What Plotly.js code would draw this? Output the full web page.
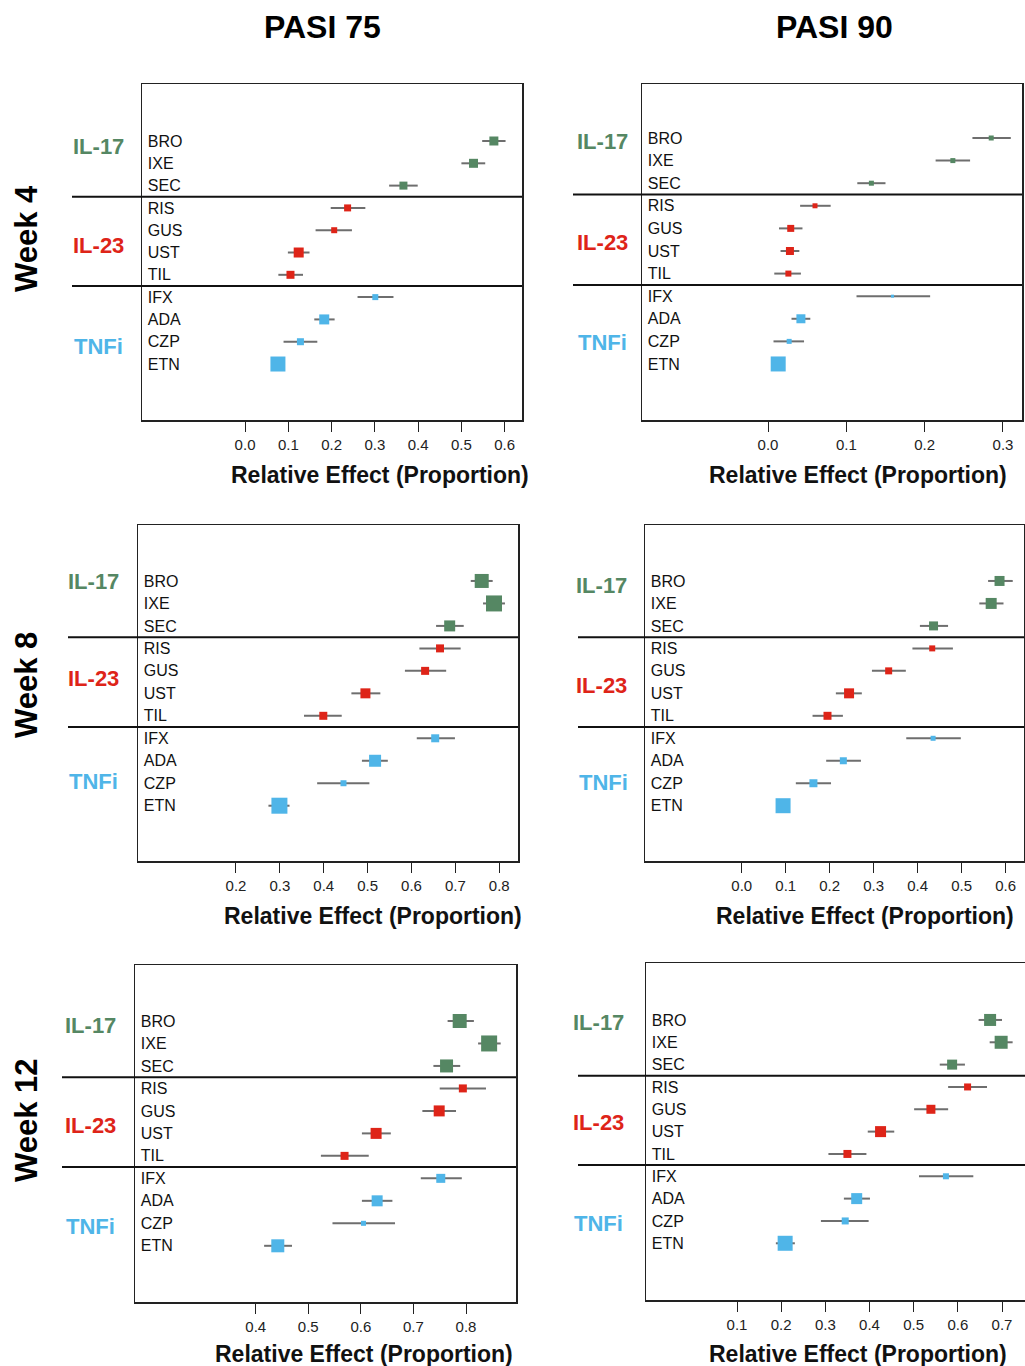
<!DOCTYPE html>
<html>
<head>
<meta charset="utf-8">
<script src="https://cdn.plot.ly/plotly-3.0.1.min.js"></script>
<style>html,body{margin:0;padding:0;background:#fff;}#chart{width:1025px;height:1366px;}</style>
</head>
<body>
<div id="chart"></div>
<script>
// ---------- DATA ----------
const drugs = ['BRO','IXE','SEC','RIS','GUS','UST','TIL','IFX','ADA','CZP','ETN'];
const drugClass = ['IL-17','IL-17','IL-17','IL-23','IL-23','IL-23','IL-23','TNFi','TNFi','TNFi','TNFi'];
const classNames = ['IL-17','IL-23','TNFi'];
const columnTitles = ['PASI 75','PASI 90'];
const rowTitles = ['Week 4','Week 8','Week 12'];
const axisTitle = 'Relative Effect (Proportion)';

// Week 4, PASI 75
const w4p75_est = [0.575,0.528,0.366,0.237,0.206,0.124,0.105,0.301,0.183,0.128,0.076];
const w4p75_lo  = [0.548,0.500,0.333,0.198,0.163,0.099,0.077,0.260,0.160,0.089,0.064];
const w4p75_hi  = [0.602,0.555,0.399,0.278,0.247,0.149,0.134,0.343,0.207,0.167,0.088];
const w4p75_ticks = [0.0,0.1,0.2,0.3,0.4,0.5,0.6];
// Week 4, PASI 90
const w4p90_est = [0.285,0.236,0.132,0.060,0.029,0.028,0.026,0.159,0.042,0.027,0.013];
const w4p90_lo  = [0.261,0.214,0.114,0.041,0.014,0.016,0.008,0.113,0.030,0.007,0.007];
const w4p90_hi  = [0.310,0.258,0.150,0.080,0.044,0.040,0.042,0.207,0.054,0.046,0.019];
const w4p90_ticks = [0.0,0.1,0.2,0.3];
// Week 8, PASI 75
const w8p75_est = [0.760,0.788,0.687,0.665,0.631,0.495,0.399,0.654,0.517,0.445,0.299];
const w8p75_lo  = [0.735,0.763,0.656,0.618,0.585,0.463,0.355,0.612,0.487,0.385,0.274];
const w8p75_hi  = [0.785,0.813,0.719,0.712,0.679,0.529,0.441,0.699,0.546,0.504,0.322];
const w8p75_ticks = [0.2,0.3,0.4,0.5,0.6,0.7,0.8];
// Week 8, PASI 90
const w8p90_est = [0.586,0.567,0.436,0.433,0.334,0.244,0.195,0.435,0.231,0.163,0.094];
const w8p90_lo  = [0.560,0.540,0.405,0.388,0.296,0.214,0.161,0.374,0.192,0.123,0.082];
const w8p90_hi  = [0.616,0.595,0.469,0.480,0.373,0.273,0.230,0.498,0.271,0.203,0.106];
const w8p90_ticks = [0.0,0.1,0.2,0.3,0.4,0.5,0.6];
// Week 12, PASI 75
const w12p75_est = [0.788,0.844,0.763,0.794,0.749,0.629,0.569,0.752,0.631,0.605,0.442];
const w12p75_lo  = [0.765,0.823,0.738,0.750,0.717,0.602,0.524,0.714,0.602,0.546,0.416];
const w12p75_hi  = [0.815,0.866,0.789,0.838,0.781,0.657,0.615,0.792,0.660,0.665,0.469];
const w12p75_ticks = [0.4,0.5,0.6,0.7,0.8];
// Week 12, PASI 90
const w12p90_est = [0.673,0.698,0.587,0.622,0.539,0.425,0.350,0.573,0.371,0.345,0.209];
const w12p90_lo  = [0.647,0.672,0.559,0.578,0.501,0.396,0.307,0.512,0.342,0.290,0.188];
const w12p90_hi  = [0.700,0.724,0.616,0.666,0.578,0.456,0.393,0.635,0.401,0.398,0.231];
const w12p90_ticks = [0.1,0.2,0.3,0.4,0.5,0.6,0.7];

// box (weight) sizes of the square markers
const w4p75_box  = [9,9,8,7,6,10,8,6,10,7,15];
const w4p90_box  = [5,5,5,5,7,8,6,3,9,5,15];
const w8p75_box  = [14,16,11,8,8,10,8,8,12,6,16];
const w8p90_box  = [10,11,9,6,7,10,8,5,7,8,15];
const w12p75_box = [14,16,13,8,11,11,8,9,11,5,13];
const w12p90_box = [12,13,10,7,9,11,8,6,11,7,15];

// ---------- STYLE / GEOMETRY ----------
const W = 1025, H = 1366;
const X = p => p / W;
const Y = p => 1 - p / H;
const classColor = {'IL-17':'#558763','IL-23':'#de2418','TNFi':'#4fb5e8'};
const FONT = 'Liberation Sans, Arial, Helvetica, sans-serif';

const panels = [
  {est:w4p75_est, lo:w4p75_lo, hi:w4p75_hi, box:w4p75_box, ticks:w4p75_ticks,
   bx:[142,522], by:[84,420], xr:[-0.2381,0.6400], yr:[12.51,-2.556], sepX:72,
   grp:[[98,146],[98,246],[98,346]], at:[380,475]},
  {est:w4p90_est, lo:w4p90_lo, hi:w4p90_hi, box:w4p90_box, ticks:w4p90_ticks,
   bx:[642,1022], by:[84,420], xr:[-0.1609,0.3243], yr:[12.48,-2.39], sepX:573,
   grp:[[602,142],[602,242],[602,342]], at:[858,475]},
  {est:w8p75_est, lo:w8p75_lo, hi:w8p75_hi, box:w8p75_box, ticks:w8p75_ticks,
   bx:[138,518], by:[525,861], xr:[-0.0233,0.8427], yr:[12.46,-2.49], sepX:68,
   grp:[[93,581],[93,679],[93,781]], at:[373,916]},
  {est:w8p90_est, lo:w8p90_lo, hi:w8p90_hi, box:w8p90_box, ticks:w8p90_ticks,
   bx:[645,1024], by:[525,861], xr:[-0.2198,0.6416], yr:[12.46,-2.49], sepX:578,
   grp:[[601,585],[601,685],[603,782]], at:[865,916]},
  {est:w12p75_est, lo:w12p75_lo, hi:w12p75_hi, box:w12p75_box, ticks:w12p75_ticks,
   bx:[135,516], by:[965,1302], xr:[0.1704,0.8951], yr:[12.5,-2.49], sepX:62,
   grp:[[90,1025],[90,1125],[90,1226]], at:[364,1354]},
  {est:w12p90_est, lo:w12p90_lo, hi:w12p90_hi, box:w12p90_box, ticks:w12p90_ticks,
   bx:[646,1025], by:[963,1300], xr:[-0.106,0.752], yr:[12.54,-2.55], sepX:578,
   grp:[[598,1022],[598,1122],[598,1223]], at:[858,1354]}
];

const data = [];
const layout = {
  width: W, height: H,
  margin: {l:0, r:0, t:0, b:0},
  paper_bgcolor: '#fff', plot_bgcolor: '#fff',
  showlegend: false,
  font: {family: FONT, color: '#111'},
  shapes: [], annotations: []
};

panels.forEach((p, i) => {
  const n = i + 1;
  const xa = 'xaxis' + (n === 1 ? '' : n);
  const ya = 'yaxis' + (n === 1 ? '' : n);
  const xr = 'x' + (n === 1 ? '' : n);
  const yr = 'y' + (n === 1 ? '' : n);

  // confidence intervals (drawn first, beneath the squares)
  data.push({
    type: 'scatter', mode: 'markers',
    x: p.est, y: drugs, xaxis: xr, yaxis: yr,
    marker: {size: 1, color: 'rgba(0,0,0,0)'},
    error_x: {type: 'data', symmetric: false,
              array: p.hi.map((h, k) => h - p.est[k]),
              arrayminus: p.lo.map((l, k) => p.est[k] - l),
              color: '#6e6e6e', thickness: 2, width: 0},
    hoverinfo: 'skip'
  });
  // point estimates
  data.push({
    type: 'scatter', mode: 'markers',
    x: p.est, y: drugs, xaxis: xr, yaxis: yr,
    marker: {symbol: 'square', size: p.box, opacity: 1,
             color: drugClass.map(c => classColor[c]),
             line: {width: 0}},
    hoverinfo: 'x+y'
  });

  layout[xa] = {
    domain: [X(p.bx[0]), X(p.bx[1])], anchor: yr,
    range: p.xr, tickvals: p.ticks, tickformat: '.1f',
    ticks: 'outside', ticklen: 10, tickwidth: 1, tickcolor: '#222',
    tickfont: {family: FONT, size: 15, color: '#222'},
    showline: true, mirror: true, linecolor: '#222', linewidth: 1.5,
    showgrid: false, zeroline: false, fixedrange: true
  };
  layout[ya] = {
    domain: [Y(p.by[1]), Y(p.by[0])], anchor: xr,
    type: 'category', categoryarray: drugs, categoryorder: 'array',
    range: p.yr, ticks: '', ticklabelposition: 'inside', ticklabelstandoff: 6,
    tickfont: {family: FONT, size: 16, color: '#111'},
    showline: true, mirror: true, linecolor: '#222', linewidth: 1.5,
    showgrid: false, zeroline: false, fixedrange: true
  };

  [2.5, 6.5].forEach(yv => {
    layout.shapes.push({type: 'line', xref: 'paper', yref: yr,
      x0: X(p.sepX), x1: X(p.bx[1]), y0: yv, y1: yv,
      line: {color: '#111', width: 2}});
  });

  classNames.forEach((c, k) => {
    layout.annotations.push({xref: 'paper', yref: 'paper',
      x: X(p.grp[k][0]), y: Y(p.grp[k][1]), xanchor: 'center', yanchor: 'middle',
      text: '<b>' + c + '</b>', showarrow: false,
      font: {family: FONT, size: 22, color: classColor[c]}});
  });

  layout.annotations.push({xref: 'paper', yref: 'paper',
    x: X(p.at[0]), y: Y(p.at[1]), xanchor: 'center', yanchor: 'middle',
    text: '<b>' + axisTitle + '</b>', showarrow: false,
    font: {family: FONT, size: 23, color: '#111'}});
});

// column titles
[[322, 27], [834, 27]].forEach((pos, k) => {
  layout.annotations.push({xref: 'paper', yref: 'paper',
    x: X(pos[0]), y: Y(pos[1]), xanchor: 'center', yanchor: 'middle',
    text: '<b>' + columnTitles[k] + '</b>', showarrow: false,
    font: {family: FONT, size: 32, color: '#000'}});
});
// row titles
[[26, 239], [26, 685], [26, 1120]].forEach((pos, k) => {
  layout.annotations.push({xref: 'paper', yref: 'paper',
    x: X(pos[0]), y: Y(pos[1]), xanchor: 'center', yanchor: 'middle',
    text: '<b>' + rowTitles[k] + '</b>', showarrow: false, textangle: -90,
    font: {family: FONT, size: 31, color: '#000'}});
});

Plotly.newPlot('chart', data, layout, {displayModeBar: false, staticPlot: true});
</script>
</body>
</html>
